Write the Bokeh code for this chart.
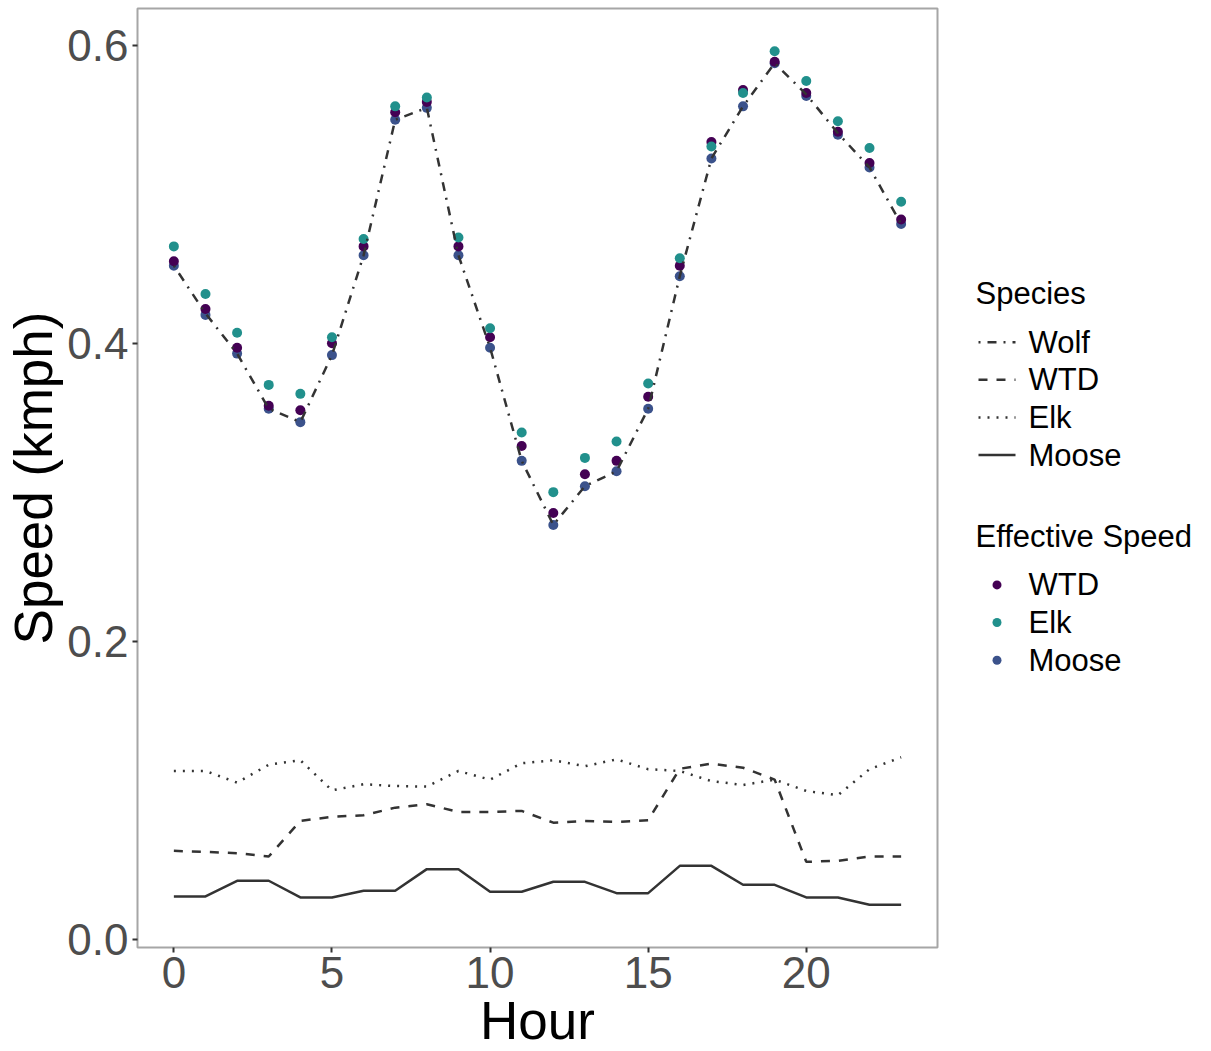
from bokeh.plotting import figure
from bokeh.layouts import row
from bokeh.models import FixedTicker, PrintfTickFormatter, Range1d, ColumnDataSource
from bokeh.embed import file_html
from bokeh.resources import INLINE
from bokeh.core.properties import value

# ---------------- data ----------------
hours = list(range(24))

wolf_speed = [0.452, 0.420, 0.393, 0.356, 0.347, 0.392, 0.459, 0.550, 0.558, 0.459, 0.397, 0.321,
              0.278, 0.304, 0.314, 0.356, 0.445, 0.524, 0.559, 0.588, 0.567, 0.541, 0.518, 0.480]
wtd_speed = [0.0592, 0.0585, 0.0576, 0.0554, 0.0793, 0.0820, 0.0831, 0.0882, 0.0905, 0.0853, 0.0853, 0.0860,
             0.0781, 0.0793, 0.0786, 0.0797, 0.1143, 0.1177, 0.1150, 0.1070, 0.0518, 0.0525, 0.0554, 0.0554]
elk_speed = [0.1128, 0.1128, 0.1050, 0.1170, 0.1200, 0.0998, 0.1039, 0.1027, 0.1023, 0.1128, 0.1070, 0.1180,
             0.1200, 0.1160, 0.1206, 0.1140, 0.1128, 0.1060, 0.1034, 0.1070, 0.0994, 0.0965, 0.1140, 0.1220]
moose_speed = [0.0286, 0.0286, 0.0391, 0.0391, 0.0279, 0.0279, 0.0324, 0.0324, 0.0469, 0.0469, 0.0317, 0.0317,
               0.0384, 0.0384, 0.0308, 0.0308, 0.0491, 0.0491, 0.0364, 0.0364, 0.0279, 0.0279, 0.0230, 0.0230]

eff_wtd = [0.455, 0.423, 0.397, 0.358, 0.355, 0.400, 0.465, 0.555, 0.562, 0.465, 0.404, 0.331,
           0.286, 0.312, 0.321, 0.364, 0.452, 0.535, 0.570, 0.589, 0.568, 0.542, 0.521, 0.483]
eff_elk = [0.465, 0.433, 0.407, 0.372, 0.366, 0.404, 0.470, 0.559, 0.565, 0.471, 0.410, 0.340,
           0.300, 0.323, 0.334, 0.373, 0.457, 0.532, 0.568, 0.596, 0.576, 0.549, 0.531, 0.495]
eff_moose = [0.452, 0.419, 0.393, 0.356, 0.347, 0.392, 0.459, 0.550, 0.558, 0.459, 0.397, 0.321,
             0.278, 0.304, 0.314, 0.356, 0.445, 0.524, 0.559, 0.588, 0.566, 0.540, 0.518, 0.480]

x_ticks = [0, 5, 10, 15, 20]
y_ticks = [0.0, 0.2, 0.4, 0.6]

species_labels = ["Wolf", "WTD", "Elk", "Moose"]
species_dash = ["2 7 9 7", "9 9", "2 7", "solid"]
eff_labels = ["WTD", "Elk", "Moose"]
eff_colors = ["#440154", "#21908C", "#3B528B"]

FONT = "Liberation Sans"
LINE_COLOR = "#333333"

# ---------------- main plot ----------------
p = figure(frame_width=800, frame_height=939,
           x_range=Range1d(-1.15, 24.15), y_range=Range1d(-0.0057, 0.6247),
           output_backend="svg", toolbar_location=None,
           min_border_left=137, min_border_right=2, min_border_top=8, min_border_bottom=104,
           background_fill_color="white", border_fill_color="white")
p.grid.visible = False
p.outline_line_color = "#A6A6A6"
p.outline_line_width = 2

src = ColumnDataSource(dict(h=hours, wolf=wolf_speed, wtd=wtd_speed, elk=elk_speed, moose=moose_speed,
                            e_wtd=eff_wtd, e_elk=eff_elk, e_moose=eff_moose))

# effective speed points (Moose under, then WTD, then Elk)
p.scatter("h", "e_moose", source=src, size=10, color=eff_colors[2], line_color=None)
p.scatter("h", "e_wtd", source=src, size=10, color=eff_colors[0], line_color=None)
p.scatter("h", "e_elk", source=src, size=10, color=eff_colors[1], line_color=None)

for col, dash in zip(["wolf", "wtd", "elk", "moose"], species_dash):
    p.line("h", col, source=src, line_color=LINE_COLOR, line_width=2.5, line_dash=dash)

for ax in (p.xaxis[0], p.yaxis[0]):
    ax.axis_line_color = None
    ax.major_tick_line_color = "#333333"
    ax.major_tick_line_width = 2
    ax.major_tick_out = 5
    ax.major_tick_in = 0
    ax.minor_tick_line_color = None
    ax.major_label_text_font = FONT
    ax.major_label_text_font_size = "44px"
    ax.major_label_text_color = "#4D4D4D"
    ax.axis_label_text_font = FONT
    ax.axis_label_text_font_size = "53px"
    ax.axis_label_text_font_style = "normal"
    ax.axis_label_text_color = "black"

p.xaxis[0].ticker = FixedTicker(ticks=x_ticks)
p.yaxis[0].ticker = FixedTicker(ticks=y_ticks)
p.yaxis[0].formatter = PrintfTickFormatter(format="%.1f")
p.xaxis[0].axis_label = "Hour"
p.yaxis[0].axis_label = "Speed (kmph)"
p.xaxis[0].major_label_standoff = 4
p.xaxis[0].axis_label_standoff = 0
p.yaxis[0].major_label_standoff = 4
p.yaxis[0].axis_label_standoff = 1

# ---------------- legend panel (page-pixel coordinates) ----------------
LX0, LX1 = 939, 1211
lg = figure(width=LX1 - LX0, height=1051, x_range=Range1d(LX0, LX1), y_range=Range1d(947, 8),
            output_backend="svg", toolbar_location=None,
            x_axis_location=None, y_axis_location=None,
            min_border=0, min_border_top=8, min_border_bottom=104,
            outline_line_color=None,
            background_fill_color="white", border_fill_color="white")
lg.grid.visible = False

title_x = 975
key_x0, key_x1 = 978, 1015
label_x = 1028
row_h = 37.7

sp_title_y = 293
sp_first_y = 342
ef_title_y = 537
ef_first_y = 585
LEG_FS = "31px"

lg.text(x=[title_x, title_x], y=[sp_title_y, ef_title_y], text=["Species", "Effective Speed"],
        text_font=value(FONT), text_font_size=LEG_FS, text_color="black",
        text_baseline="middle", text_align="left")

sp_ys = [sp_first_y + i * row_h for i in range(len(species_labels))]
for yy, dash in zip(sp_ys, species_dash):
    lg.line(x=[key_x0, key_x1], y=[yy, yy], line_color=LINE_COLOR, line_width=2.5, line_dash=dash)
lg.text(x=[label_x] * len(species_labels), y=sp_ys, text=species_labels,
        text_font=value(FONT), text_font_size=LEG_FS, text_color="black",
        text_baseline="middle", text_align="left")

ef_ys = [ef_first_y + i * row_h for i in range(len(eff_labels))]
lg.scatter(x=[(key_x0 + key_x1) / 2] * len(eff_labels), y=ef_ys, size=9, color=eff_colors, line_color=None)
lg.text(x=[label_x] * len(eff_labels), y=ef_ys, text=eff_labels,
        text_font=value(FONT), text_font_size=LEG_FS, text_color="black",
        text_baseline="middle", text_align="left")

layout = row(p, lg, spacing=0)
open("out.html", "w").write(file_html(layout, INLINE))
